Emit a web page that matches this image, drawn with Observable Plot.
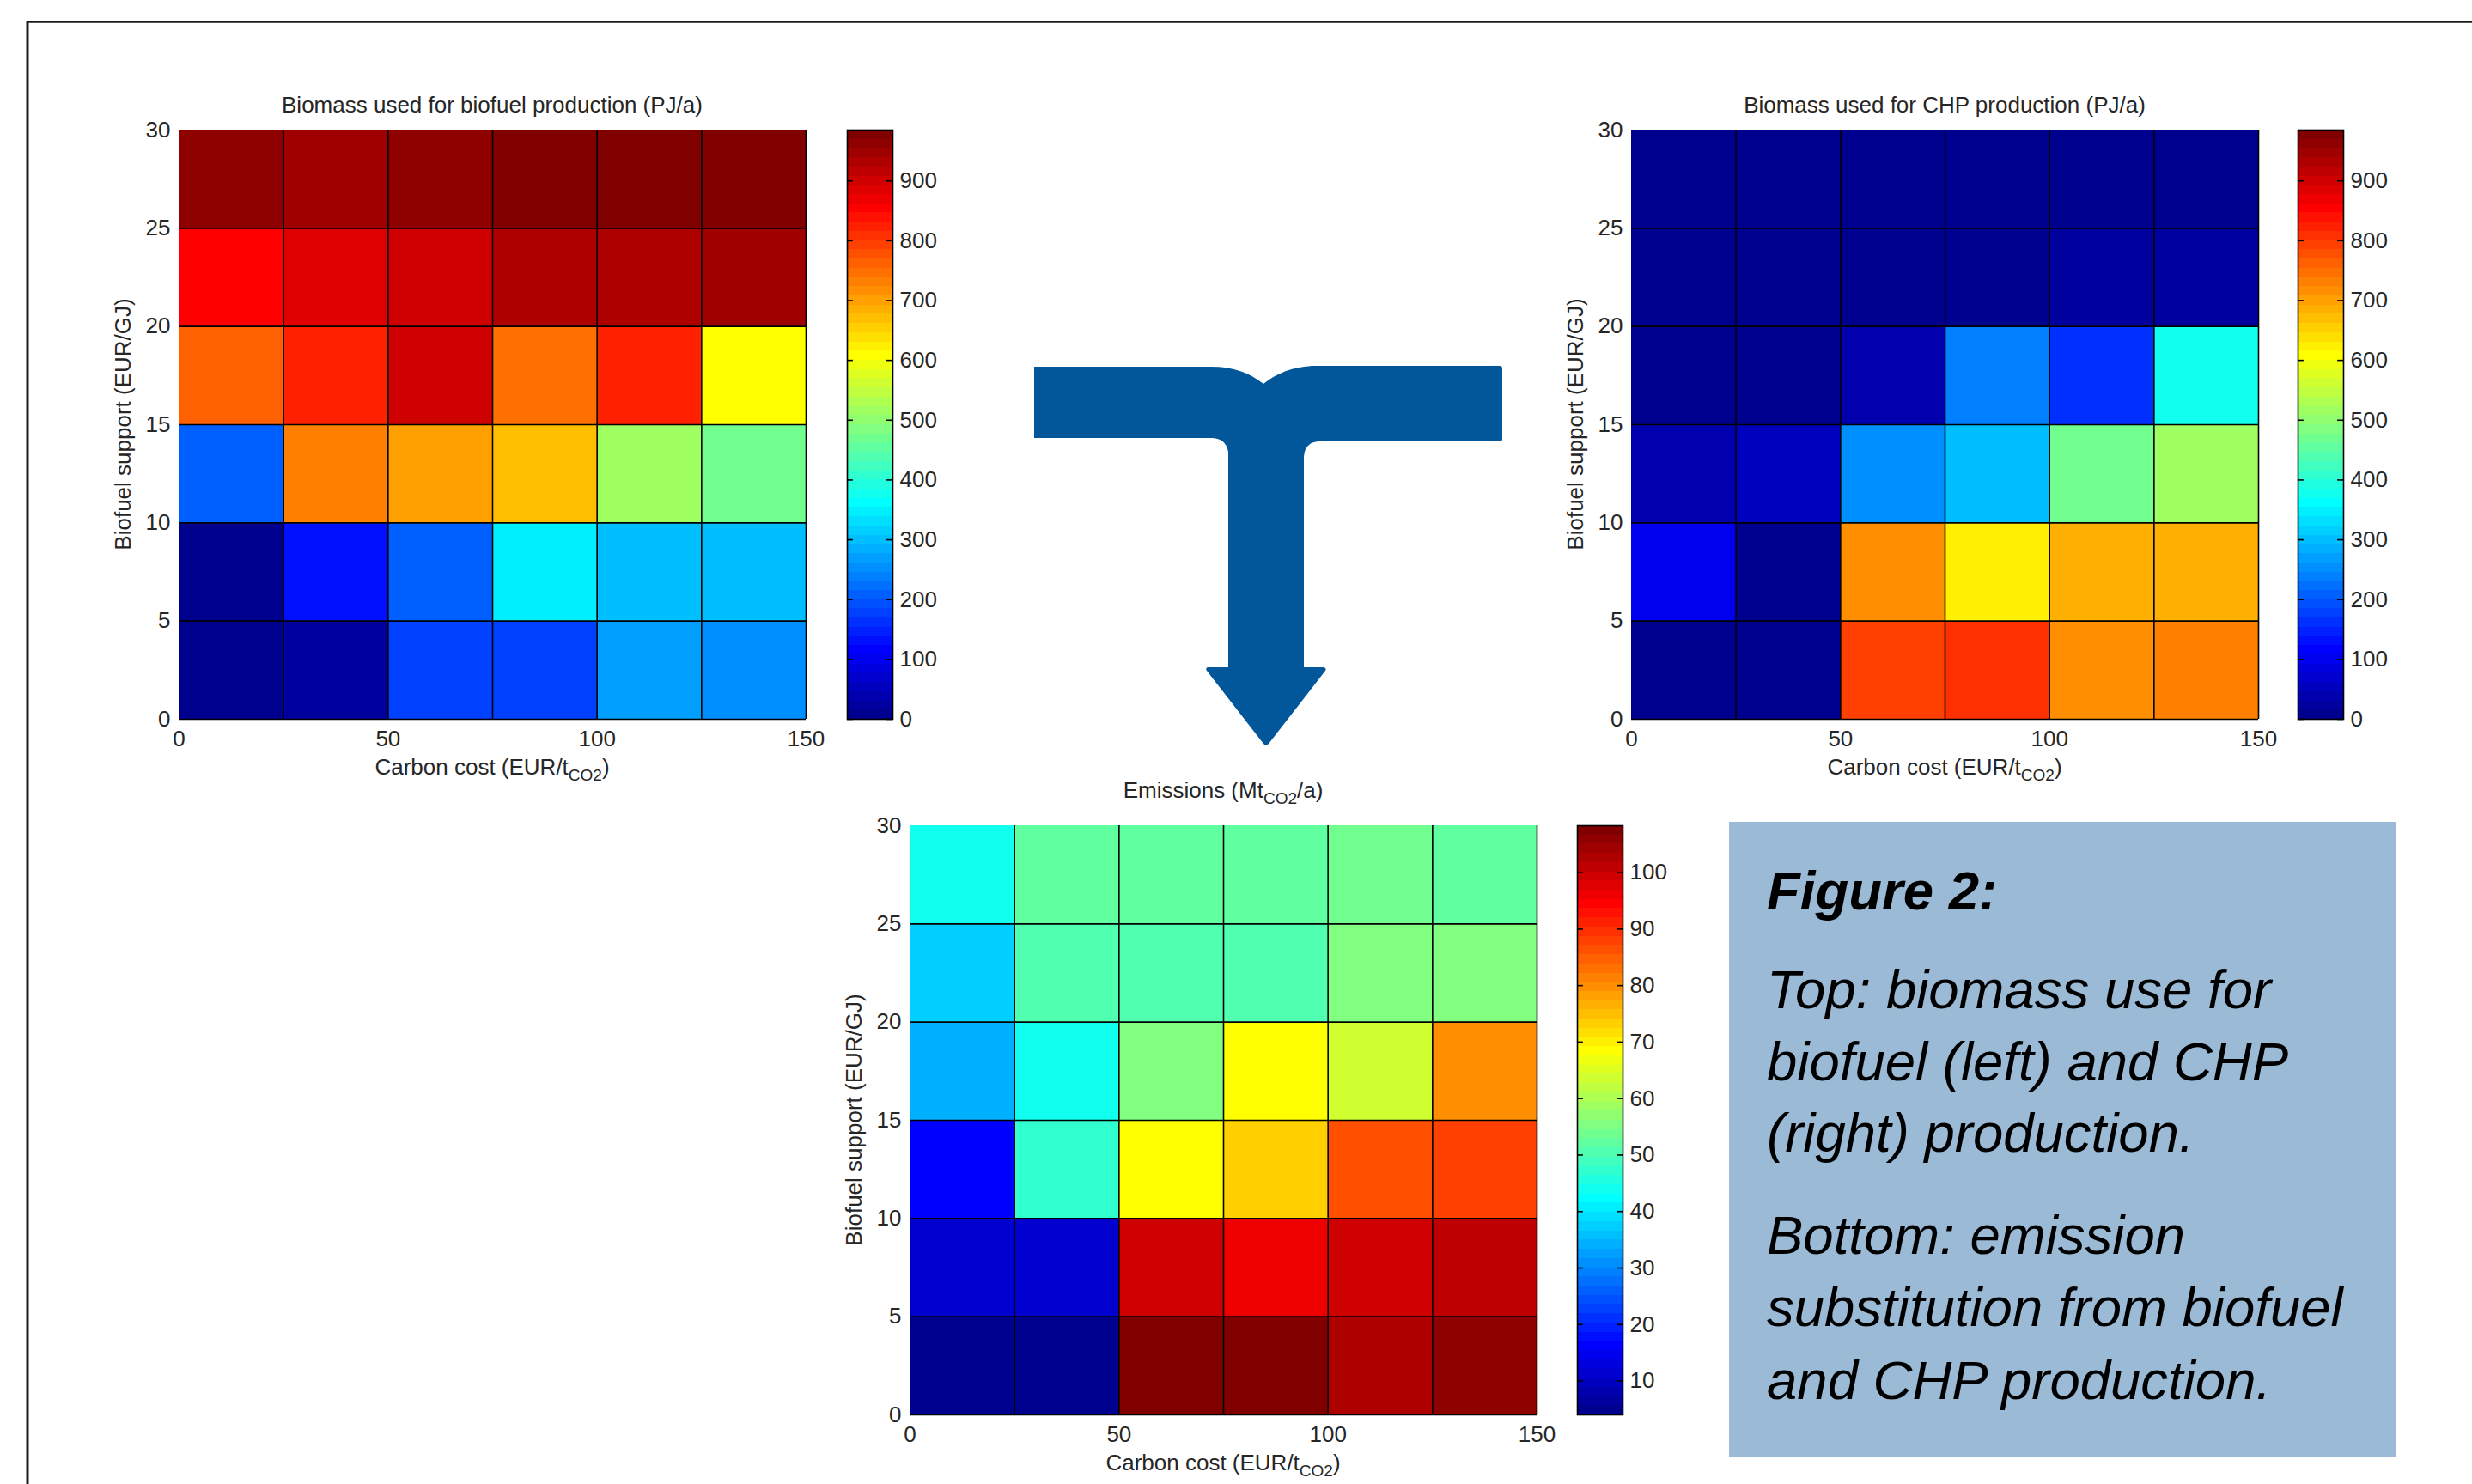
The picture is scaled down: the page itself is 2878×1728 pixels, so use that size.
<!DOCTYPE html>
<html>
<head>
<meta charset="utf-8">
<script src="https://cdn.jsdelivr.net/npm/d3@7"></script>
<script src="https://cdn.jsdelivr.net/npm/@observablehq/plot@0.6"></script>
<style>
  html, body { margin: 0; padding: 0; background: #fff; }
  #root { position: relative; width: 2878px; height: 1728px; overflow: hidden; background: #fff; }
  .abs { position: absolute; }
  #overlay { position: absolute; left: 0; top: 0; pointer-events: none; }
</style>
</head>
<body>
<div id="root"></div>
<script>
// ---------------- data ----------------
const carbonCostEdges = [0, 25, 50, 75, 100, 125, 150];     // EUR/tCO2 cell edges
const biofuelSupportEdges = [0, 5, 10, 15, 20, 25, 30];      // EUR/GJ cell edges
const carbonCostTicks = [0, 50, 100, 150];
const biofuelSupportTicks = [0, 5, 10, 15, 20, 25, 30];

// rows from bottom (0–5 EUR/GJ) to top (25–30 EUR/GJ); columns by carbon cost
const biofuelBiomass = [
  [0, 23, 178, 172, 276, 261],
  [0, 138, 208, 345, 300, 300],
  [208, 731, 700, 670, 515, 470],
  [762, 823, 900, 746, 823, 608],
  [855, 885, 900, 931, 931, 947],
  [962, 947, 962, 985, 980, 975]
];
const chpBiomass = [
  [15, 0, 793, 808, 716, 731],
  [100, 15, 716, 625, 685, 685],
  [38, 54, 254, 300, 470, 515],
  [0, 0, 38, 238, 167, 384],
  [8, 8, 8, 8, 23, 20],
  [8, 8, 8, 8, 8, 8]
];
const emissions = [
  [4, 5.3, 108, 108, 102.6, 105.9],
  [11.3, 11.3, 99.3, 96.1, 99.3, 101],
  [16.2, 47.2, 68.4, 73.3, 86.3, 88],
  [34.1, 44, 55.3, 68.4, 63.5, 79.8],
  [37.4, 50.4, 50.4, 50.4, 55.3, 55.3],
  [44, 52.1, 52.1, 52.1, 53.7, 52.1]
];
const biomassDomain = [0, 985];
const emissionsDomain = [4, 108.3];
const biomassBarTicks = [0, 100, 200, 300, 400, 500, 600, 700, 800, 900];
const emissionsBarTicks = [10, 20, 30, 40, 50, 60, 70, 80, 90, 100];

const titles = {
  biofuel: "Biomass used for biofuel production (PJ/a)",
  chp: "Biomass used for CHP production (PJ/a)"
};
const captionLines = {
  heading: "Figure 2:",
  top: ["Top: biomass use for", "biofuel (left) and CHP", "(right) production."],
  bottom: ["Bottom: emission", "substitution from biofuel", "and CHP production."]
};

// ---------------- helpers ----------------
const fontFamily = '"Liberation Sans", Arial, Helvetica, sans-serif';
const textColor = "#262626";

// MATLAB jet(64)
function jet64(i) {
  const u = j => j < 1 ? 0 : j <= 16 ? j / 16 : j <= 31 ? 1 : j <= 47 ? (48 - j) / 16 : 0;
  const r = u(i - 24), g = u(i - 8), b = u(i + 8);
  return `rgb(${Math.round(r * 255)},${Math.round(g * 255)},${Math.round(b * 255)})`;
}
const jetInterp = t => jet64(Math.max(1, Math.min(64, Math.floor(t * 64) + 1)));

function cellsOf(matrix) {
  return matrix.flatMap((row, j) => row.map((v, i) => ({
    x1: carbonCostEdges[i], x2: carbonCostEdges[i + 1],
    y1: biofuelSupportEdges[j], y2: biofuelSupportEdges[j + 1], v
  })));
}

const W = 730, H = 686;
const HM = {l: 90, r: 30, t: 5, b: 45};

function heatmap(matrix, domain) {
  return Plot.plot({
    width: HM.l + W + HM.r, height: HM.t + H + HM.b,
    marginLeft: HM.l, marginRight: HM.r, marginTop: HM.t, marginBottom: HM.b,
    style: {fontFamily, fontSize: "26px", color: textColor, background: "transparent", overflow: "visible"},
    x: {domain: [carbonCostEdges[0], carbonCostEdges[carbonCostEdges.length - 1]], ticks: carbonCostTicks, tickSize: 0, tickPadding: 13, label: null},
    y: {domain: [biofuelSupportEdges[0], biofuelSupportEdges[biofuelSupportEdges.length - 1]], ticks: biofuelSupportTicks, tickSize: 0, tickPadding: 10, label: null},
    color: {type: "linear", domain, interpolate: jetInterp},
    marks: [
      Plot.rect(cellsOf(matrix), {x1: "x1", x2: "x2", y1: "y1", y2: "y2", fill: "v", shapeRendering: "crispEdges"}),
      Plot.ruleX(carbonCostEdges.slice(1), {stroke: "#000", strokeWidth: 1.6}),
      Plot.ruleY(biofuelSupportEdges.slice(0, -1), {stroke: "#000", strokeWidth: 1.6})
    ]
  });
}

const CB = {l: 2, r: 90, t: 5, b: 20, w: 53};
function colorbar(domain, ticks) {
  const n = 64, lo = domain[0], hi = domain[1];
  const bands = d3.range(n).map(i => ({
    y1: lo + (hi - lo) * i / n, y2: lo + (hi - lo) * (i + 1) / n, v: lo + (hi - lo) * (i + 0.5) / n
  }));
  return Plot.plot({
    width: CB.l + CB.w + CB.r, height: CB.t + H + CB.b,
    marginLeft: CB.l, marginRight: CB.r, marginTop: CB.t, marginBottom: CB.b,
    style: {fontFamily, fontSize: "26px", color: textColor, background: "transparent", overflow: "visible"},
    x: {domain: [0, 1], axis: null},
    y: {domain, axis: "right", ticks, tickSize: 0, tickPadding: 8, label: null},
    color: {type: "linear", domain, interpolate: jetInterp},
    marks: [
      Plot.rect(bands, {x1: 0, x2: 1, y1: "y1", y2: "y2", fill: "v", shapeRendering: "crispEdges"}),
      Plot.ruleY(ticks, {x1: 0, x2: 0.13, stroke: "#000", strokeWidth: 1.6}),
      Plot.ruleY(ticks, {x1: 0.87, x2: 1, stroke: "#000", strokeWidth: 1.6}),
      Plot.frame({stroke: "#000", strokeWidth: 1.6})
    ]
  });
}

const root = document.getElementById("root");
function place(node, left, top) {
  node.classList.add("abs");
  node.style.left = left + "px";
  node.style.top = top + "px";
  root.appendChild(node);
}

// panel positions (plot-area top-left)
const panels = [
  {matrix: biofuelBiomass, domain: biomassDomain, ticks: biomassBarTicks, L: 208, T: 151, cb: 986},
  {matrix: chpBiomass, domain: biomassDomain, ticks: biomassBarTicks, L: 1899, T: 151, cb: 2675},
  {matrix: emissions, domain: emissionsDomain, ticks: emissionsBarTicks, L: 1059, T: 961, cb: 1836}
];
for (const p of panels) {
  place(heatmap(p.matrix, p.domain), p.L - HM.l, p.T - HM.t);
  place(colorbar(p.domain, p.ticks), p.cb - CB.l, p.T - CB.t);
}

// ---------------- overlay: frame, arrow, titles, labels, caption ----------------
const NS = "http://www.w3.org/2000/svg";
const svg = document.createElementNS(NS, "svg");
svg.setAttribute("id", "overlay");
svg.setAttribute("width", 2878);
svg.setAttribute("height", 1728);
svg.setAttribute("font-family", fontFamily);
root.appendChild(svg);
function el(tag, attrs, parent = svg) {
  const e = document.createElementNS(NS, tag);
  for (const k in attrs) e.setAttribute(k, attrs[k]);
  parent.appendChild(e);
  return e;
}
function textWithSub(x, y, parts, attrs = {}) {
  const t = el("text", Object.assign({x, y, "text-anchor": "middle", "font-size": 26, fill: textColor}, attrs));
  let prevSub = false;
  for (const [s, sub] of parts) {
    const dy = sub ? 7 : (prevSub ? -7 : 0);
    const ts = el("tspan", {"font-size": sub ? 19 : 26, dy}, t);
    ts.textContent = s;
    prevSub = sub;
  }
  return t;
}

// frame lines
el("line", {x1: 32, y1: 25.5, x2: 2878, y2: 25.5, stroke: "#1c1c1c", "stroke-width": 2.6});
el("line", {x1: 32, y1: 25, x2: 32, y2: 1728, stroke: "#1c1c1c", "stroke-width": 3});

// arrow
el("path", {
  d: "M1204,427 L1410,427 C1436,427 1455,434 1471,447 C1488,433 1509,426 1532,426 L1746,426 Q1749,426 1749,429 L1749,511 Q1749,514 1746,514 L1535,514 Q1519,515 1518,532 L1518,777 L1541,777 Q1545,778 1543,781 L1477,866 Q1474,869 1471,866 L1405,781 Q1403,778 1406,777 L1430,777 L1430,526 Q1427,510 1410,510 L1204,510 Z",
  fill: "#02569a"
});

// titles & axis labels
const labelSets = [
  {L: 208, T: 151, title: [[titles.biofuel, false]], titleDy: -20},
  {L: 1899, T: 151, title: [[titles.chp, false]], titleDy: -20},
  {L: 1059, T: 961, title: [["Emissions (Mt", false], ["CO2", true], ["/a)", false]], titleDy: -32}
];
for (const s of labelSets) {
  textWithSub(s.L + W / 2, s.T + s.titleDy, s.title);
  textWithSub(s.L + W / 2, s.T + H + 65, [["Carbon cost (EUR/t", false], ["CO2", true], [")", false]]);
  const yl = el("text", {
    transform: `translate(${s.L - 56},${s.T + H / 2}) rotate(-90)`,
    "text-anchor": "middle", "font-size": 26, fill: textColor
  });
  yl.textContent = "Biofuel support (EUR/GJ)";
}

// caption box
el("rect", {x: 2013, y: 957, width: 776, height: 740, fill: "#9bbad6"});
const capX = 2057;
const head = el("text", {x: capX, y: 1059, "font-size": 63.5, "font-style": "italic", "font-weight": "bold", fill: "#000"});
head.textContent = captionLines.heading;
const topBase = [1174, 1258, 1341];
captionLines.top.forEach((s, i) => {
  const t = el("text", {x: capX, y: topBase[i], "font-size": 63.5, "font-style": "italic", fill: "#000"});
  t.textContent = s;
});
const botBase = [1460, 1544, 1629];
captionLines.bottom.forEach((s, i) => {
  const t = el("text", {x: capX, y: botBase[i], "font-size": 63.5, "font-style": "italic", fill: "#000"});
  t.textContent = s;
});
</script>
</body>
</html>
